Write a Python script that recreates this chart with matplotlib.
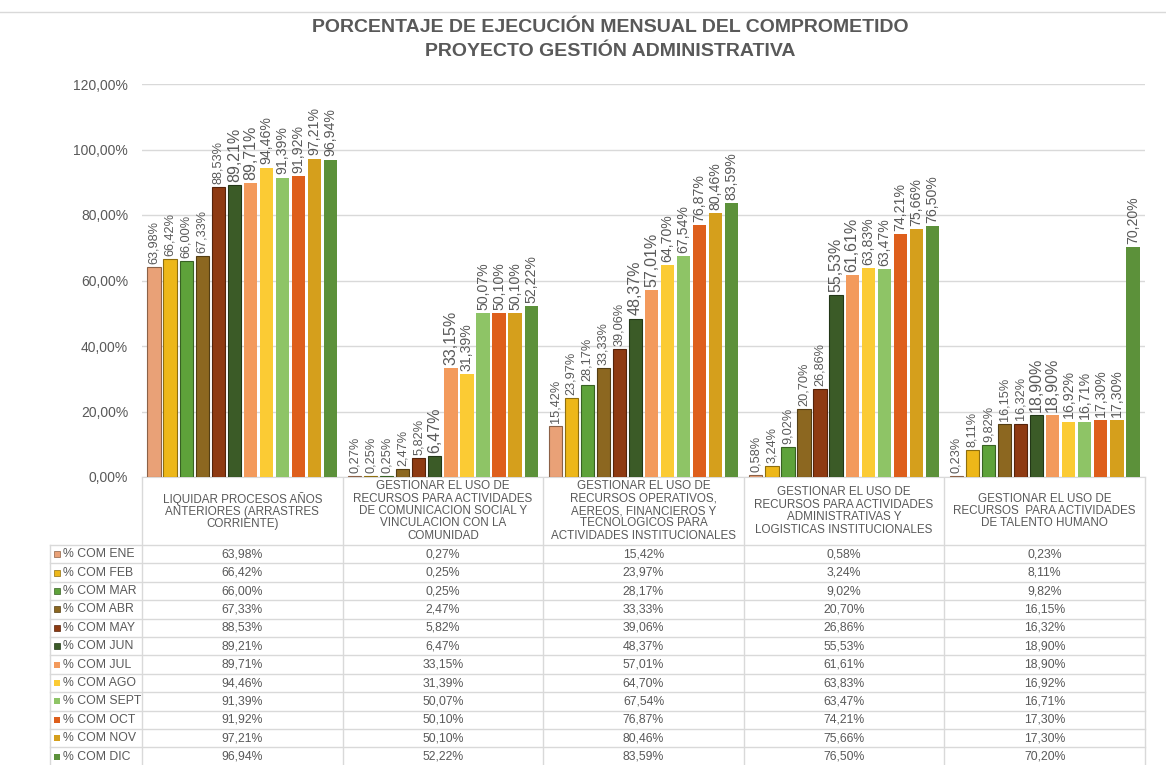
import matplotlib
matplotlib.use("Agg")
import matplotlib.pyplot as plt
from matplotlib.patches import Rectangle
from matplotlib.colors import to_rgb

plt.rcParams['font.family'] = ['Liberation Sans', 'DejaVu Sans']

categories = [
    "LIQUIDAR PROCESOS AÑOS\nANTERIORES (ARRASTRES\nCORRIENTE)",
    "GESTIONAR EL USO DE\nRECURSOS PARA ACTIVIDADES\nDE COMUNICACION SOCIAL Y\nVINCULACION CON LA\nCOMUNIDAD",
    "GESTIONAR EL USO DE\nRECURSOS OPERATIVOS,\nAEREOS, FINANCIEROS Y\nTECNOLOGICOS PARA\nACTIVIDADES INSTITUCIONALES",
    "GESTIONAR EL USO DE\nRECURSOS PARA ACTIVIDADES\nADMINISTRATIVAS Y\nLOGISTICAS INSTITUCIONALES",
    "GESTIONAR EL USO DE\nRECURSOS  PARA ACTIVIDADES\nDE TALENTO HUMANO",
]

series_names = ["% COM ENE", "% COM FEB", "% COM MAR", "% COM ABR", "% COM MAY",
                "% COM JUN", "% COM JUL", "% COM AGO", "% COM SEPT", "% COM OCT",
                "% COM NOV", "% COM DIC"]

com_ene = [63.98, 0.27, 15.42, 0.58, 0.23]
com_feb = [66.42, 0.25, 23.97, 3.24, 8.11]
com_mar = [66.00, 0.25, 28.17, 9.02, 9.82]
com_abr = [67.33, 2.47, 33.33, 20.70, 16.15]
com_may = [88.53, 5.82, 39.06, 26.86, 16.32]
com_jun = [89.21, 6.47, 48.37, 55.53, 18.90]
com_jul = [89.71, 33.15, 57.01, 61.61, 18.90]
com_ago = [94.46, 31.39, 64.70, 63.83, 16.92]
com_sept = [91.39, 50.07, 67.54, 63.47, 16.71]
com_oct = [91.92, 50.10, 76.87, 74.21, 17.30]
com_nov = [97.21, 50.10, 80.46, 75.66, 17.30]
com_dic = [96.94, 52.22, 83.59, 76.50, 70.20]

values = [com_ene, com_feb, com_mar, com_abr, com_may, com_jun,
          com_jul, com_ago, com_sept, com_oct, com_nov, com_dic]

colors = ["#E9A177", "#EDB719", "#5EA23A", "#8C6720", "#8E3A12", "#3B5B27",
          "#F39A5C", "#FBCB34", "#8EC466", "#DE5F1C", "#D59F1C", "#5C913A"]
label_sizes = [9.2] * 5 + [11.5, 11.5] + [10.2] * 5
beveled = [True] * 6 + [False] * 6

GRAY = "#595959"
LINE = "#D9D9D9"
W, H = 1166, 765


def fmt(v):
    return f"{v:.2f}".replace(".", ",") + "%"


def darker(c, f=0.6):
    r, g, b = to_rgb(c)
    return (r * f, g * f, b * f)


fig = plt.figure(figsize=(W / 100, H / 100), dpi=100)

# plot area
x0, x1, ytop, ybot = 142, 1145, 84, 477
ax = fig.add_axes([x0 / W, (H - ybot) / H, (x1 - x0) / W, (ybot - ytop) / H])
n_cat = len(categories)
ax.set_xlim(-0.5, n_cat - 0.5)
ax.set_ylim(0, 120)
ax.set_yticks(range(0, 121, 20))
ax.set_yticklabels([fmt(t) for t in range(0, 121, 20)], fontsize=10, color=GRAY)
ax.set_xticks([])
ax.grid(axis="y", color=LINE, linewidth=1)
ax.set_axisbelow(True)
for s in ["top", "right", "left"]:
    ax.spines[s].set_visible(False)
ax.spines["bottom"].set_color(LINE)
ax.tick_params(axis="y", length=0, pad=10)

step = 0.08
bw = 0.066
for j, vals in enumerate(values):
    xs = [i + (j - 5.5) * step for i in range(n_cat)]
    if beveled[j]:
        ax.bar(xs, vals, width=bw, color=colors[j], edgecolor=darker(colors[j]),
               linewidth=0.8, zorder=3)
    else:
        ax.bar(xs, vals, width=bw, color=colors[j], linewidth=0, zorder=3)
    for x, v in zip(xs, vals):
        ax.text(x, v + 1.0, fmt(v), rotation=90, ha="center", va="bottom",
                fontsize=label_sizes[j], color=GRAY, zorder=4)

# title
fig.text(610 / W, 1 - 28 / H, "PORCENTAJE DE EJECUCIÓN MENSUAL DEL COMPROMETIDO",
         ha="center", va="center", fontsize=14, fontweight="bold", color=GRAY)
fig.text(610 / W, 1 - 51 / H, "PROYECTO GESTIÓN ADMINISTRATIVA",
         ha="center", va="center", fontsize=14, fontweight="bold", color=GRAY)

# data table drawn in pixel coordinates on an overlay
ov = fig.add_axes([0, 0, 1, 1], zorder=-1)
ov.set_xlim(0, W)
ov.set_ylim(H, 0)
ov.axis("off")
ov.plot([0, W], [12, 12], color=LINE, lw=1)

col_edges = [x0 + (x1 - x0) * k / n_cat for k in range(n_cat + 1)]
head_bot = 545
row_h = 18.4
left = 50
for xe in col_edges:
    ov.plot([xe, xe], [ybot, H], color=LINE, lw=1)
ov.plot([left, left], [head_bot, H], color=LINE, lw=1)
for r in range(len(series_names) + 1):
    yy = head_bot + r * row_h
    ov.plot([left, x1], [yy, yy], color=LINE, lw=1)

for i, name in enumerate(categories):
    cx = (col_edges[i] + col_edges[i + 1]) / 2
    ov.text(cx, 511, name, ha="center", va="center", fontsize=8.4, color=GRAY,
            linespacing=1.04)

for j, name in enumerate(series_names):
    cy = head_bot + (j + 0.5) * row_h
    ov.add_patch(Rectangle((54, cy - 3), 6, 6, facecolor=colors[j],
                           edgecolor=darker(colors[j]) if beveled[j] else "none", lw=0.5))
    ov.text(63, cy, name, ha="left", va="center", fontsize=8.8, color=GRAY)
    for i in range(n_cat):
        cx = (col_edges[i] + col_edges[i + 1]) / 2
        ov.text(cx, cy, fmt(values[j][i]), ha="center", va="center",
                fontsize=8.8, color=GRAY)

fig.savefig("out.png", dpi=100)
